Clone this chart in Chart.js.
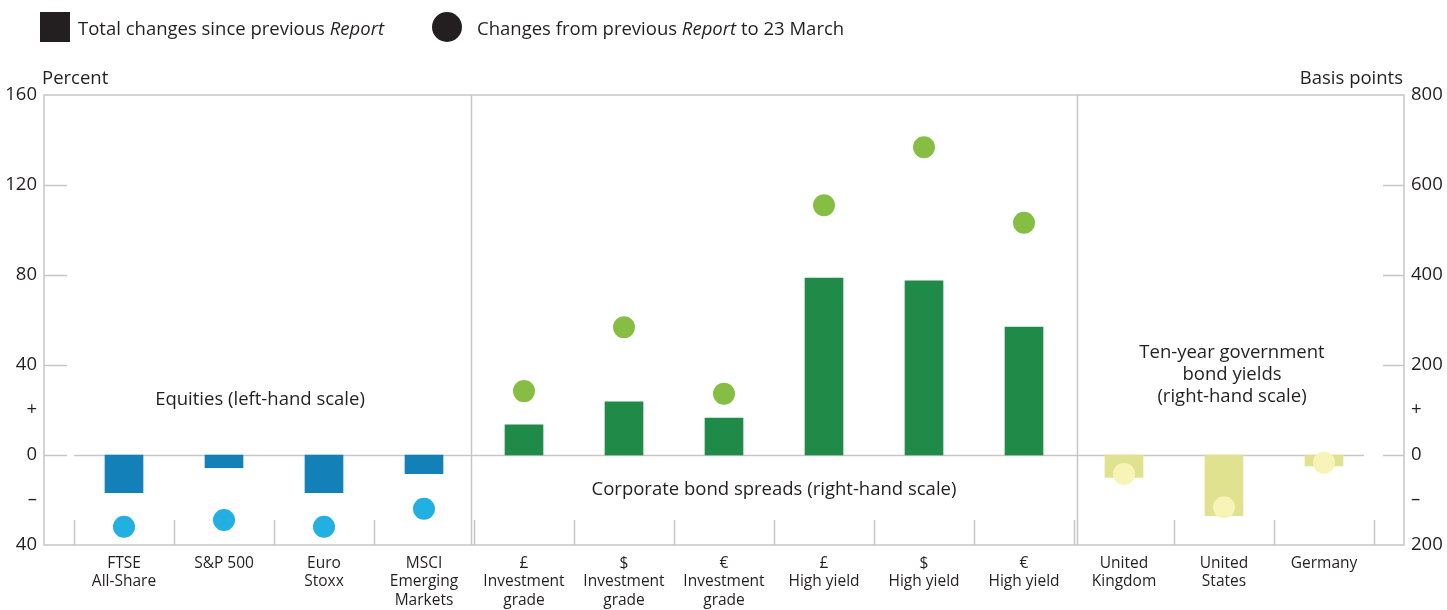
<!DOCTYPE html>
<html>
<head>
<meta charset="utf-8">
<script src="https://cdn.jsdelivr.net/npm/chart.js@4"></script>
<style>
  body { margin: 0; background: #fff; font-family: "Open Sans", sans-serif; color: #231f20; }
  #wrap { position: relative; width: 1447px; height: 610px; }
  #legend { position: absolute; left: 40px; top: 12px; font-size: 18.5px; display: flex; align-items: center; height: 30px; }
  .swatch { width: 30px; height: 30px; background: #231f20; margin-right: 8px; }
  .dot { width: 30px; height: 30px; border-radius: 50%; background: #231f20; margin-left: 48px; margin-right: 15px; }
  canvas { position: absolute; left: 0; top: 0; }
</style>
</head>
<body>
<div id="wrap">
  <canvas id="chart" width="1447" height="610"></canvas>
  <div id="legend">
    <div class="swatch"></div><span>Total changes since previous <i>Report</i></span>
    <div class="dot"></div><span>Changes from previous <i>Report</i> to 23 March</span>
  </div>
</div>
<script>
// Categories (x axis labels)
const categories = [
    ['FTSE', 'All-Share'], ['S&P 500'], ['Euro', 'Stoxx'], ['MSCI', 'Emerging', 'Markets'],
    ['£', 'Investment', 'grade'], ['$', 'Investment', 'grade'], ['€', 'Investment', 'grade'],
    ['£', 'High yield'], ['$', 'High yield'], ['€', 'High yield'],
    ['United', 'Kingdom'], ['United', 'States'], ['Germany']
];

// Equities, percent (left-hand scale), categories 0-3
const equityTotal = [-16.7, -5.6, -16.7, -8.3];
const equityToMarch = [-31.9, -28.9, -31.9, -23.9];

// Corporate bond spreads, basis points (right-hand scale), categories 4-9
const spreadTotal = [67, 118, 82, 393, 387, 284];
const spreadToMarch = [142, 284, 136, 555, 684, 516];

// Ten-year government bond yields, basis points (right-hand scale), categories 10-12
const yieldTotal = [-50, -135, -24];
const yieldToMarch = [-42, -116, -17];

// Tick values and labels
const leftTicks = [-40, -20, 0, 20, 40, 80, 120, 160];
const rightTicks = [-200, -100, 0, 100, 200, 400, 600, 800];
const signLabels = { '-20': '–', '20': '+', '-100': '–', '100': '+' };

const TEXT = '#231f20';
const LINE = '#c6c6c6';
const FONT = '"Open Sans", sans-serif';

function toPoints(values, start) {
    return values.map((v, i) => ({ x: start + i, y: v }));
}

function tickLabel(value) {
    if (signLabels[String(value)]) return signLabels[String(value)];
    return String(Math.abs(value));
}

// Border, tick marks, zero line, dividers and section labels
const framePlugin = {
    id: 'frame',
    beforeDatasetsDraw(chart) {
        const { ctx, chartArea: a, scales } = chart;
        const x = scales.x, yl = scales.yLeft, yr = scales.yRight;
        ctx.save();
        ctx.strokeStyle = LINE;
        ctx.lineWidth = 1.5;
        ctx.beginPath();
        // outer box
        ctx.rect(a.left, a.top, a.right - a.left, a.bottom - a.top);
        // inward tick marks
        [0, 40, 80, 120].forEach(v => {
            const y = Math.round(yl.getPixelForValue(v)) + 0.5;
            ctx.moveTo(a.left, y); ctx.lineTo(a.left + 23, y);
        });
        [0, 200, 400, 600].forEach(v => {
            const y = Math.round(yr.getPixelForValue(v)) + 0.5;
            ctx.moveTo(a.right - 21, y); ctx.lineTo(a.right, y);
        });
        // zero line
        const y0 = Math.round(yl.getPixelForValue(0)) + 0.5;
        ctx.moveTo(x.getPixelForValue(-0.5), y0);
        ctx.lineTo(x.getPixelForValue(12.4), y0);
        // short category dividers at the bottom
        for (let i = -0.5; i <= 12.5; i++) {
            const px = Math.round(x.getPixelForValue(i)) + 0.5;
            ctx.moveTo(px, a.bottom - 25); ctx.lineTo(px, a.bottom);
        }
        // section dividers
        [3.47, 9.53].forEach(v => {
            const px = Math.round(x.getPixelForValue(v)) + 0.5;
            ctx.moveTo(px, a.top); ctx.lineTo(px, a.bottom);
        });
        ctx.stroke();

        // section labels
        ctx.fillStyle = TEXT;
        ctx.font = '18.5px ' + FONT;
        ctx.textAlign = 'center';
        ctx.textBaseline = 'middle';
        ctx.fillText('Equities (left-hand scale)', x.getPixelForValue(1.36), yl.getPixelForValue(24.5));
        ctx.fillText('Corporate bond spreads (right-hand scale)', x.getPixelForValue(6.5), yl.getPixelForValue(-15.5));
        const gx = x.getPixelForValue(11.08);
        ['Ten-year government', 'bond yields', '(right-hand scale)'].forEach((t, i) => {
            ctx.fillText(t, gx, yr.getPixelForValue(228 - i * 49));
        });

        // axis units
        ctx.textBaseline = 'alphabetic';
        ctx.textAlign = 'left';
        ctx.fillText('Percent', a.left - 2, a.top - 11);
        ctx.textAlign = 'right';
        ctx.fillText('Basis points', a.right - 1, a.top - 11);
        ctx.restore();
    }
};

const ctx = document.getElementById('chart').getContext('2d');
const chart = new Chart(ctx, {
    type: 'bar',
    data: {
        datasets: [
            {
                type: 'scatter',
                data: toPoints(equityToMarch, 0),
                yAxisID: 'yLeft',
                pointRadius: 11,
                pointBorderWidth: 0,
                pointBackgroundColor: '#22b0e3'
            },
            {
                type: 'scatter',
                data: toPoints(spreadToMarch, 4).concat(toPoints(yieldToMarch, 10)),
                yAxisID: 'yRight',
                pointRadius: 11,
                pointBorderWidth: 0,
                pointBackgroundColor: spreadToMarch.map(() => '#86be43').concat(yieldToMarch.map(() => '#f8f4b8'))
            },
            {
                data: toPoints(equityTotal, 0),
                yAxisID: 'yLeft',
                grouped: false,
                barThickness: 38,
                backgroundColor: '#1380b8'
            },
            {
                data: toPoints(spreadTotal, 4).concat(toPoints(yieldTotal, 10)),
                yAxisID: 'yRight',
                grouped: false,
                barThickness: 38,
                backgroundColor: spreadTotal.map(() => '#208a48').concat(yieldTotal.map(() => '#e1e28f'))
            }
        ]
    },
    options: {
        responsive: false,
        animation: false,
        layout: { padding: { top: 95, left: 0, right: 0, bottom: 0 } },
        plugins: {
            legend: { display: false },
            tooltip: { enabled: false }
        },
        scales: {
            x: {
                type: 'linear',
                offset: false,
                min: -0.8,
                max: 12.8,
                afterBuildTicks: scale => { scale.ticks = categories.map((_, i) => ({ value: i })); },
                afterFit: scale => { scale.height = 65; },
                grid: { display: false, drawTicks: false },
                border: { display: false },
                ticks: {
                    autoSkip: false,
                    maxRotation: 0,
                    padding: 9,
                    color: TEXT,
                    font: { family: FONT, size: 15.5, lineHeight: 1.2 },
                    callback: value => categories[value]
                }
            },
            yLeft: {
                type: 'linear',
                position: 'left',
                min: -40,
                max: 160,
                afterBuildTicks: scale => { scale.ticks = leftTicks.map(v => ({ value: v })); },
                afterFit: scale => { scale.width = 44; },
                grid: { display: false, drawTicks: false },
                border: { display: false },
                ticks: { padding: 7, color: TEXT, font: { family: FONT, size: 18.5 }, callback: tickLabel }
            },
            yRight: {
                type: 'linear',
                position: 'right',
                min: -200,
                max: 800,
                afterBuildTicks: scale => { scale.ticks = rightTicks.map(v => ({ value: v })); },
                afterFit: scale => { scale.width = 43; },
                grid: { display: false, drawTicks: false },
                border: { display: false },
                ticks: { padding: 7, color: TEXT, font: { family: FONT, size: 18.5 }, callback: tickLabel }
            }
        }
    },
    plugins: [framePlugin]
});
</script>
</body>
</html>
